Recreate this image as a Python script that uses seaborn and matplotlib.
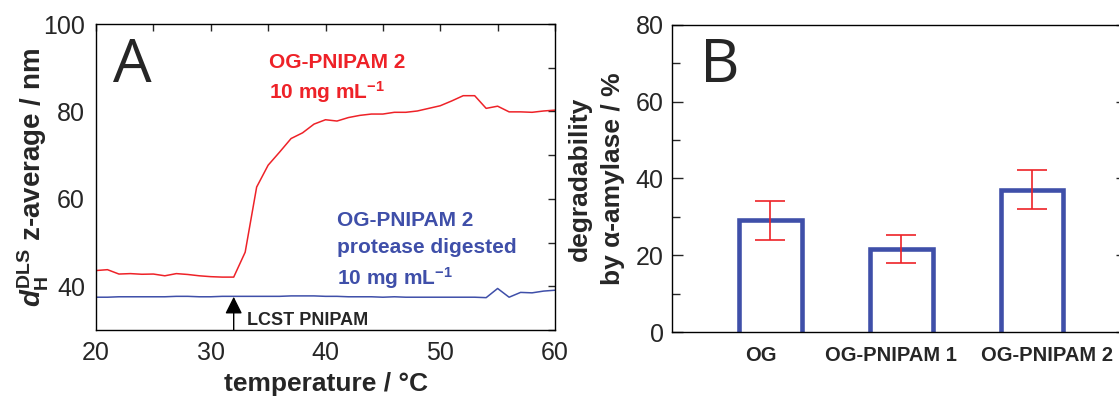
import matplotlib
matplotlib.use('Agg')
import matplotlib.pyplot as plt
import matplotlib.transforms as mtransforms
from matplotlib.ticker import MultipleLocator
import seaborn as sns
import numpy as np

# data
temperature = list(range(20, 61))
dh_native = [43.6, 43.8, 42.8, 42.9, 42.75, 42.8, 42.4, 42.9, 42.7, 42.4,
             42.2, 42.1, 42.1, 47.8, 62.7, 67.7, 70.7, 73.8, 75.1, 77.1,
             78.1, 77.8, 78.6, 79.1, 79.4, 79.4, 79.8, 79.8, 80.1, 80.7,
             81.3, 82.4, 83.6, 83.6, 80.7, 81.2, 79.9, 79.9, 79.8, 80.1,
             80.3]
dh_digested = [37.5, 37.5, 37.6, 37.6, 37.6, 37.6, 37.6, 37.7, 37.7, 37.6,
               37.6, 37.7, 37.7, 37.7, 37.7, 37.7, 37.7, 37.8, 37.8, 37.8,
               37.7, 37.7, 37.6, 37.6, 37.6, 37.5, 37.6, 37.5, 37.5, 37.5,
               37.5, 37.5, 37.5, 37.5, 37.4, 39.5, 37.5, 38.6, 38.5, 38.9,
               39.1]
lcst = 32

categories = ['OG', 'OG-PNIPAM 1', 'OG-PNIPAM 2']
degradability = [29.1, 21.6, 37.1]
degradability_err = [5.0, 3.7, 5.0]

red = '#ee2228'
blue = '#3f4fa9'

sns.set_style("white")
plt.rcParams['font.family'] = ['Liberation Sans', 'DejaVu Sans']
plt.rcParams['mathtext.fontset'] = 'custom'
plt.rcParams['mathtext.rm'] = 'Liberation Sans:bold'
plt.rcParams['mathtext.bf'] = 'Liberation Sans:bold'
plt.rcParams['mathtext.it'] = 'Liberation Sans:bold:italic'
plt.rcParams['axes.edgecolor'] = 'black'
plt.rcParams['axes.linewidth'] = 1.0

W, H = 1119, 396
fig = plt.figure(figsize=(W / 100, H / 100), dpi=100)

# panel A
axA = fig.add_axes([96 / W, (H - 330) / H, (555 - 96) / W, (330 - 24) / H])
sns.lineplot(x=temperature, y=dh_native, color=red, lw=1.1, ax=axA)
sns.lineplot(x=temperature, y=dh_digested, color=blue, lw=1.1, ax=axA)
axA.set_xlim(20, 60)
axA.set_ylim(30, 100)
axA.xaxis.set_major_locator(MultipleLocator(10))
axA.xaxis.set_minor_locator(MultipleLocator(5))
axA.set_yticks([40, 60, 80, 100])
axA.yaxis.set_minor_locator(MultipleLocator(10))
axA.tick_params(which='both', direction='in', top=True, right=True,
                length=5, width=1, labelsize=18, pad=8)
axA.set_xlabel('temperature / °C', fontsize=19, fontweight='bold', labelpad=5)
axA.set_ylabel(r'$d_{\mathrm{H}}^{\mathrm{DLS}}$ z-average / nm', fontsize=20,
               fontweight='bold', labelpad=-6)

axA.text(0.037, 0.81, 'A', transform=axA.transAxes, fontsize=44,
         family=['Open Sans', 'DejaVu Sans'], va='baseline')
axA.text(0.377, 0.856, 'OG-PNIPAM 2', transform=axA.transAxes, color=red,
         fontsize=15, fontweight='bold', va='baseline')
axA.text(0.377, 0.755, r'10 mg mL$^{-1}$', transform=axA.transAxes, color=red,
         fontsize=15, fontweight='bold', va='baseline')
axA.text(0.525, 0.34, 'OG-PNIPAM 2', transform=axA.transAxes, color=blue,
         fontsize=15, fontweight='bold', va='baseline')
axA.text(0.525, 0.252, 'protease digested', transform=axA.transAxes,
         color=blue, fontsize=15, fontweight='bold', va='baseline')
axA.text(0.525, 0.147, r'10 mg mL$^{-1}$', transform=axA.transAxes,
         color=blue, fontsize=15, fontweight='bold', va='baseline')

axA.annotate('', xy=(lcst, 37.6), xytext=(lcst, 30),
             arrowprops=dict(arrowstyle='-|>', mutation_scale=26,
                             color='black', lw=1, shrinkA=0, shrinkB=0))
axA.text(lcst + 1.15, 31.1, 'LCST PNIPAM', fontsize=13, fontweight='bold',
         va='baseline')

# panel B
axB = fig.add_axes([672 / W, (H - 332) / H, (1127 - 672) / W, (332 - 25) / H])
sns.barplot(x=categories, y=degradability, fill=False, color=blue,
            linewidth=3.3, width=0.48, errorbar=None, ax=axB)
for p in axB.patches:
    # push the bottom edge under the axis so it is clipped away
    p.set_y(-5)
    p.set_height(p.get_height() + 5)
axB.errorbar(np.arange(len(categories)), degradability, yerr=degradability_err,
             fmt='none', ecolor=red, elinewidth=1.2, capsize=11, capthick=1.2,
             zorder=5)
axB.set_xlim(-0.75, 2.725)
axB.set_ylim(0, 80)
axB.yaxis.set_major_locator(MultipleLocator(20))
axB.yaxis.set_minor_locator(MultipleLocator(10))
axB.tick_params(axis='y', which='major', direction='in', left=True,
                right=True, length=8, width=1, labelsize=18, pad=6)
axB.tick_params(axis='y', which='minor', direction='in', left=True,
                right=True, length=5.5, width=1)
axB.tick_params(axis='x', length=0, pad=10)
# the category labels sit slightly off the bar centres in the original
label_shift = [-7, -7, 11]
for lab, dx in zip(axB.get_xticklabels(), label_shift):
    lab.set_fontsize(14.5)
    lab.set_fontweight('bold')
    lab.set_transform(lab.get_transform() +
                      mtransforms.ScaledTranslation(dx / 72, 0, fig.dpi_scale_trans))
axB.set_ylabel('degradability\nby α-amylase / %', fontsize=19,
               fontweight='bold', labelpad=8, linespacing=1.45)
axB.set_xlabel('')
axB.text(0.062, 0.814, 'B', transform=axB.transAxes, fontsize=44,
         family=['Open Sans', 'DejaVu Sans'], va='baseline')

fig.savefig('out.png', dpi=100)
